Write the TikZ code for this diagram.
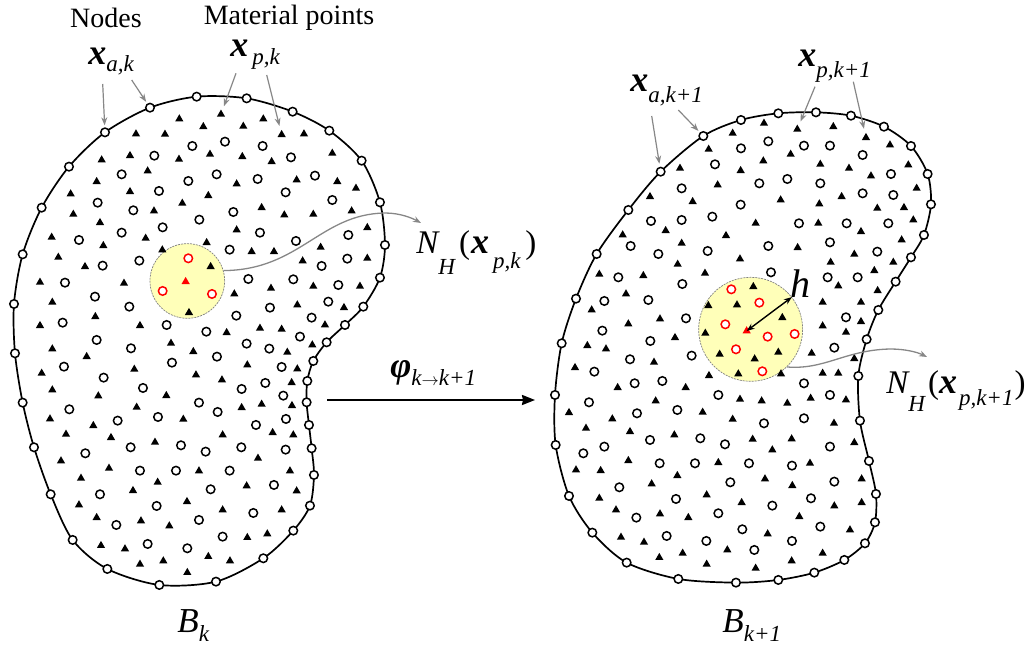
\documentclass[tikz,border=0pt]{standalone}
\usepackage{fontspec}
\setmainfont{Liberation Serif}
\usepackage{tikz}
\usetikzlibrary{arrows.meta,shapes.geometric}

\definecolor{nbyellow}{RGB}{255,255,185}
\definecolor{callgray}{RGB}{135,135,135}

\newcommand{\vx}{\textbf{\textit{x}}}
\newcommand{\lblfont}{\fontsize{33}{33}\selectfont}
\newcommand{\bxfont}{\fontsize{36}{36}\selectfont}
\newcommand{\subfont}{\fontsize{23}{23}\selectfont}

\begin{document}
\begin{tikzpicture}[
    x=1pt, y=-1pt,
    >=Stealth, thick,
    body/.style={line width=1.7pt},
    npt/.style={circle, draw, fill=white, line width=1.5pt, minimum size=8.5pt, inner sep=0pt},
    rpt/.style={npt, draw=red},
    mpt/.style={regular polygon, regular polygon sides=3, fill=black, minimum size=9.5pt, inner sep=0pt},
    rmpt/.style={mpt, fill=red},
    nbhd/.style={circle, draw=gray, fill=nbyellow, line width=0.7pt, dash pattern=on 2pt off 1pt, inner sep=0pt},
    callout/.style={->, draw=callgray, line width=1.2pt, >={Stealth[length=8pt,width=6pt]}},
    link/.style={->, draw=callgray, line width=1.3pt, >={Stealth[length=8pt,width=6pt]}},
    lbl/.style={anchor=base west, inner sep=0pt, font=\lblfont}
]
\useasboundingbox (0,0) rectangle (1030,650);

% body B_k
\begin{scope}[shift={(0,85)}, x=0.3333pt, y=-0.3333pt]
\foreach \x/\y [count=\i] in {315/142, 450/68, 590/35, 740/40, 878/80, 988/137, 1085/227, 1140/352, 1155/480, 1140/578, 1090/665, 1035/720, 980/772, 940/828, 922/888, 920/952, 927/1020, 935/1090, 942/1170, 930/1262, 880/1337, 790/1420, 648/1490, 478/1500, 322/1452, 218/1365, 152/1228, 102/1087, 68/953, 45/805, 42/657, 68/508, 125/368, 207/245}
    \coordinate (lb\i) at (\x,\y);
\draw[body] plot[smooth cycle] coordinates {(lb1) (lb2) (lb3) (lb4) (lb5) (lb6) (lb7) (lb8) (lb9) (lb10) (lb11) (lb12) (lb13) (lb14) (lb15) (lb16) (lb17) (lb18) (lb19) (lb20) (lb21) (lb22) (lb23) (lb24) (lb25) (lb26) (lb27) (lb28) (lb29) (lb30) (lb31) (lb32) (lb33) (lb34)};
\node[nbhd, minimum size=74.7pt] (nbk) at (562,588) {};
\foreach \x/\y [count=\i] in {577/183, 675/170, 788/183, 463/212, 873/217, 365/268, 565/288, 650/268, 773/282, 945/272, 477/318, 857/322, 293/353, 997/345, 400/376, 700/381, 598/404, 488/427, 780/443, 365/443, 237/465, 888/468, 1045/450, 689/494, 418/527, 308/542, 1042/521, 965/543, 745/582, 880/583, 195/593, 1015/600, 285/635, 388/665, 985/650, 810/668, 709/692, 188/713, 500/720, 935/698, 619/740, 290/765, 900/755, 740/776, 808/791, 393/790, 651/815, 516/833, 192/845, 845/846, 311/878, 725/912, 796/894, 429/909, 850/932, 597/953, 653/981, 208/973, 474/996, 353/1007, 858/1002, 768/1020, 392/1087, 543/1081, 617/1100, 724/1087, 857/1094, 256/1105, 420/1157, 528/1157, 689/1157, 822/1200, 632/1213, 300/1228, 470/1263, 760/1284, 597/1305, 349/1320, 668/1355, 443/1377, 562/1390}
    \node[npt] (lc\i) at (\x,\y) {};
\foreach \x/\y [count=\i] in {538/102, 790/102, 610/125, 730/124, 408/147, 495/148, 912/147, 390/212, 305/225, 537/223, 630/208, 727/215, 815/230, 997/205, 443/258, 290/290, 710/297, 890/285, 1012/290, 1068/310, 212/327, 390/320, 625/332, 547/355, 785/368, 220/388, 462/378, 853/390, 940/388, 1055/378, 300/413, 155/457, 437/460, 710/435, 1102/428, 310/482, 487/495, 620/473, 755/500, 822/500, 962/487, 175/517, 255/545, 908/528, 1102/520, 120/592, 372/595, 632/545, 703/627, 813/610, 940/604, 1080/604, 157/652, 892/660, 1032/668, 286/695, 120/722, 420/722, 567/683, 680/743, 780/730, 845/733, 975/720, 513/775, 157/792, 260/815, 580/800, 862/802, 937/780, 125/865, 403/853, 742/840, 892/852, 588/870, 666/885, 875/893, 157/915, 295/933, 499/932, 785/958, 876/962, 410/967, 725/968, 150/1002, 280/1022, 550/1003, 198/1048, 333/1058, 668/1050, 818/1043, 880/1050, 465/1072, 183/1128, 327/1150, 597/1158, 774/1120, 243/1180, 473/1192, 870/1158, 399/1217, 740/1203, 890/1218, 237/1260, 561/1250, 290/1298, 423/1308, 508/1323, 668/1275, 845/1275, 303/1382, 375/1392, 742/1358, 802/1347, 420/1438, 490/1428, 625/1415, 690/1428, 562/1463}
    \node[mpt] (lt\i) at (\x,\y) {};
\node[mpt] (ltgt1) at (663,88) {};
\node[mpt] (ltgt2) at (845,149) {};
\foreach \x/\y [count=\i] in {565/520, 488/618, 636/627}
    \node[rpt] (lr\i) at (\x,\y) {};
\node[rmpt] (lrt) at (557,590) {};
\foreach \i in {1,...,34}
    \node[npt] (ln\i) at (lb\i) {};
\end{scope}

% body B_{k+1}
\begin{scope}[shift={(545,100)}, x=0.3333pt, y=-0.3333pt]
\foreach \x/\y [count=\i] in {347/215, 475/108, 588/60, 700/40, 813/37, 918/47, 1017/80, 1098/138, 1148/222, 1158/313, 1137/405, 1098/472, 1052/545, 1000/630, 965/718, 940/828, 945/962, 972/1083, 993/1182, 990/1267, 960/1330, 898/1380, 808/1418, 700/1440, 573/1448, 400/1437, 245/1388, 142/1298, 72/1188, 32/1035, 30/885, 50/730, 93/596, 155/462, 250/330}
    \coordinate (rb\i) at (\x,\y);
\draw[body] plot[smooth cycle] coordinates {(rb1) (rb2) (rb3) (rb4) (rb5) (rb6) (rb7) (rb8) (rb9) (rb10) (rb11) (rb12) (rb13) (rb14) (rb15) (rb16) (rb17) (rb18) (rb19) (rb20) (rb21) (rb22) (rb23) (rb24) (rb25) (rb26) (rb27) (rb28) (rb29) (rb30) (rb31) (rb32) (rb33) (rb34) (rb35)};
\node[nbhd, minimum size=104pt] (nbk1) at (617,688) {};
\foreach \x/\y [count=\i] in {588/145, 670/124, 777/137, 855/137, 953/165, 510/193, 643/250, 727/237, 826/250, 1038/222, 410/265, 953/280, 1045/285, 587/314, 318/363, 410/360, 502/350, 762/370, 905/370, 1030/370, 257/438, 340/462, 488/453, 670/438, 855/427, 997/455, 678/517, 848/532, 938/532, 220/532, 412/552, 178/603, 310/600, 423/655, 903/652, 172/692, 316/723, 440/767, 868/743, 255/778, 148/815, 352/843, 269/850, 777/850, 520/885, 855/885, 132/907, 276/940, 397/930, 657/970, 777/955, 178/1040, 115/1060, 315/1020, 466/1015, 540/1033, 855/1040, 344/1090, 450/1090, 612/1090, 741/1097, 556/1147, 868/1145, 223/1162, 393/1197, 798/1195, 682/1217, 520/1240, 274/1253, 592/1288, 826/1280, 365/1308, 484/1323, 741/1323, 628/1350}
    \node[npt] (rc\i) at (\x,\y) {};
\foreach \x/\y [count=\i] in {563/100, 657/70, 865/80, 1035/135, 491/148, 737/163, 655/183, 826/193, 1090/195, 405/205, 587/212, 912/205, 978/228, 518/255, 1115/265, 315/290, 443/305, 707/300, 823/312, 890/290, 997/325, 1077/323, 1105/360, 632/370, 820/370, 362/392, 948/395, 233/405, 543/407, 410/430, 758/443, 1070/420, 398/493, 585/477, 857/487, 928/463, 1045/487, 163/523, 295/527, 480/520, 988/512, 880/558, 243/582, 140/630, 345/657, 833/607, 948/607, 998/572, 250/672, 833/678, 948/665, 903/697, 127/737, 183/747, 390/713, 327/787, 800/760, 928/776, 90/803, 492/827, 833/820, 880/820, 218/863, 422/863, 585/898, 650/903, 727/910, 797/895, 903/900, 332/903, 72/938, 202/957, 473/937, 563/958, 867/970, 123/985, 255/995, 388/1005, 623/1018, 740/1017, 682/1050, 928/1028, 250/1082, 520/1088, 795/1090, 93/1110, 167/1112, 397/1127, 320/1152, 660/1137, 742/1157, 950/1137, 163/1195, 485/1185, 590/1208, 868/1218, 950/1208, 213/1230, 345/1242, 430/1253, 763/1250, 228/1312, 297/1327, 668/1302, 915/1290, 343/1373, 413/1360, 547/1350, 833/1360, 485/1393, 632/1405, 740/1383, 625/560, 490/617, 576/615, 712/653, 481/700, 700/757, 629/777, 524/763, 580/822, 708/822}
    \node[mpt] (rt\i) at (\x,\y) {};
\node[mpt] (rtgt1) at (757,88) {};
\node[mpt] (rtgt2) at (963,113) {};
\foreach \x/\y [count=\i] in {559/568, 643/608, 541/673, 668/710, 749/702, 573/748, 652/814}
    \node[rpt] (rr\i) at (\x,\y) {};
\node[rmpt] (rrt) at (605,693) {};
\foreach \i in {1,...,35}
    \node[npt] (rn\i) at (rb\i) {};
\end{scope}

\draw[<->, line width=1.4pt, >={Stealth[length=8pt,width=6pt]}] (rrt.center) -- (nbk1.38);
\node[lbl, font=\fontsize{40}{40}\selectfont\itshape] (hlbl) at (790,297) {h};

% labels
\node[font=\fontsize{28}{28}\selectfont] (nodes) at (106,18) {Nodes};
\node[font=\fontsize{28}{28}\selectfont] (matpts) at (289,18) {Material points};

\node[lbl] (xak) at (88,65) {\bxfont\vx\raisebox{-7pt}{\subfont\itshape a,k}};
\node[lbl] (xpk) at (230,57) {\bxfont\vx\hspace{4pt}\raisebox{-8pt}{\subfont\itshape p,k}};
\node[lbl] (xak1) at (630,92) {\bxfont\vx\raisebox{-11pt}{\subfont\itshape a,k+1}};
\node[lbl] (xpk1) at (798,67) {\bxfont\vx\raisebox{-11pt}{\subfont\itshape p,k+1}};

\coordinate (ak0) at (102.7,84);
\coordinate (ak1) at (131.7,80);
\coordinate (pk0) at (236,73.3);
\coordinate (pk1) at (266.7,75);
\draw[callout, shorten >=2pt] (ak0) -- (ln1);
\draw[callout, shorten >=2pt] (ak1) -- (ln2);
\draw[callout, shorten >=5pt] (pk0) -- (ltgt1);
\draw[callout, shorten >=5pt] (pk1) -- (ltgt2);

\coordinate (ak2) at (651.7,116);
\coordinate (ak3) at (678.3,110);
\coordinate (pk2) at (815,86.7);
\coordinate (pk3) at (853.3,81.7);
\draw[callout, shorten >=3pt] (ak2) -- (rn1);
\draw[callout, shorten >=2pt] (ak3) -- (rn2);
\draw[callout, shorten >=5pt] (pk2) -- (rtgt1);
\draw[callout, shorten >=5pt] (pk3) -- (rtgt2);

\node[lbl] (nhk) at (416,253) {\itshape N\raisebox{-21pt}{\subfont H}\hspace{4pt}\upshape(\hspace{1pt}\bxfont\vx\hspace{4pt}\raisebox{-15pt}{\subfont\itshape p,k}\hspace{5pt}\lblfont\upshape)};
\node[lbl] (nhk1) at (886,393) {\itshape N\raisebox{-18pt}{\subfont H}\hspace{3pt}\upshape(\bxfont\vx\hspace{2pt}\raisebox{-12pt}{\subfont\itshape p,k+1}\hspace{1pt}\lblfont\upshape)};
\coordinate (tipk) at (421,223);
\coordinate (tipk1) at (927,357);
\draw[link] (nbk.16) .. controls (300,270) and (320,214) .. (385,213) .. controls (400,213) and (412,218) .. (tipk);
\draw[link] (nbk1.-46) .. controls (825,370) and (845,350) .. (890,349) .. controls (905,349) and (917,352) .. (tipk1);

% mapping
\coordinate (phs) at (327,400);
\coordinate (phe) at (535,400);
\draw[->, line width=2pt, >={Stealth[length=13pt,width=10pt,inset=1pt]}] (phs) -- (phe);
\node[lbl] (phi) at (390,377) {\bxfont\textbf{\textit{φ}}\raisebox{-8pt}{\subfont\itshape k{\fontsize{16}{16}\selectfont$\rightarrow$}k+1}};

\node[lbl] (bk) at (177,632) {\fontsize{35}{35}\selectfont\itshape B\raisebox{-9pt}{\subfont k}};
\node[lbl] (bk1) at (722,632) {\fontsize{35}{35}\selectfont\itshape B\raisebox{-9pt}{\subfont k+1}};
\end{tikzpicture}
\end{document}
